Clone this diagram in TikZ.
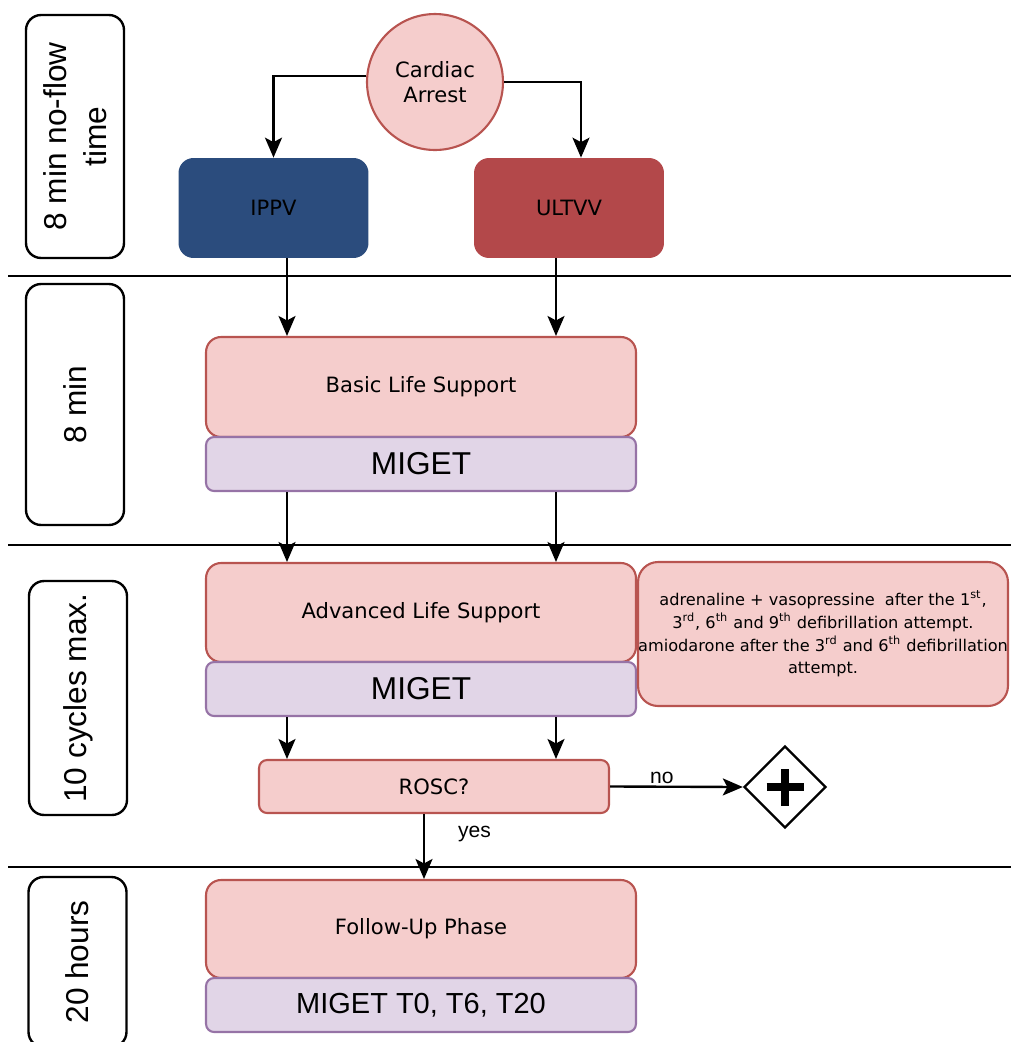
\documentclass[tikz,border=0pt]{standalone}
\usepackage{fontspec}
\setmainfont{DejaVu Sans}
\newfontfamily\arialfont{Liberation Sans}
\usetikzlibrary{arrows.meta,shapes.geometric}

\definecolor{boxpink}{HTML}{F5CDCC}
\definecolor{pinkline}{HTML}{B85450}
\definecolor{boxpurple}{HTML}{E1D5E7}
\definecolor{purpleline}{HTML}{9673A6}
\definecolor{ippvblue}{HTML}{2B4C7D}
\definecolor{ultvvred}{HTML}{B3484A}

\begin{document}
\begin{tikzpicture}[x=0.02cm, y=-0.02cm, >={Stealth[length=0.4cm,width=0.34cm,inset=0.09cm]},
	conn/.style={->, line width=1.35pt},
	phase/.style={draw=pinkline, fill=boxpink, line width=1.2pt, rounded corners=0.3cm,
		minimum width=8.6cm, minimum height=2cm, inner sep=0pt, font=\fontsize{12}{14}\selectfont},
	miget/.style={draw=purpleline, fill=boxpurple, line width=1.2pt, rounded corners=0.16cm,
		minimum width=8.6cm, minimum height=1.08cm, inner sep=0pt, font=\arialfont\fontsize{18}{21}\selectfont},
	timebox/.style={draw, line width=1.35pt, rounded corners=0.3cm, rotate=90, minimum height=1.96cm,
		inner sep=0pt, align=center, font=\arialfont\fontsize{18}{22.5}\selectfont},
	arm/.style={rounded corners=0.3cm, minimum width=3.8cm, minimum height=2cm, inner sep=0pt,
		font=\fontsize{12}{14}\selectfont}]
	\useasboundingbox (0,0) rectangle (1011,1042);
	\clip (0,0) rectangle (1011,1042);

	% columns of the vertical connectors
	\coordinate (lcol) at (287,0);
	\coordinate (rcol) at (556,0);
	\coordinate (ucol) at (581,0);
	\coordinate (mcol) at (424,0);

	% phase separators
	\foreach \y in {276,545,867}
		\draw[line width=1.35pt] (8,\y) -- (1011,\y);

	% time column
	\node[timebox, minimum width=4.86cm] (t1) at (75,136.5) {8 min no-flow\\time};
	\node[timebox, minimum width=4.82cm] (t2) at (75,404.5) {8 min};
	\node[timebox, minimum width=4.68cm] (t3) at (78,698) {10 cycles max.};
	\node[timebox, minimum width=3.4cm] (t4) at (77.5,962) {20 hours};

	% start
	\node[circle, draw=pinkline, fill=boxpink, line width=1.2pt, minimum size=2.72cm, inner sep=0pt,
		align=center, font=\fontsize{12}{14.5}\selectfont] (arrest) at (435,82) {Cardiac\\Arrest};
	\node[arm, fill=ippvblue] (ippv) at (273.5,208) {IPPV};
	\node[arm, fill=ultvvred] (ultvv) at (569,208) {ULTVV};

	% protocol
	\node[phase] (bls) at (421,387) {Basic Life Support};
	\node[miget] (miget1) at (421,464) {MIGET};
	\node[phase, minimum height=1.98cm] (als) at (421,612.5) {Advanced Life Support};
	\node[miget] (miget2) at (421,689) {MIGET};
	\node[draw=pinkline, fill=boxpink, line width=1.2pt, rounded corners=0.4cm, minimum width=7.4cm,
		minimum height=2.88cm, inner sep=0pt, align=center, font=\fontsize{9.2}{13}\selectfont] (drugs) at (823,634)
		{adrenaline + vasopressine~ after the 1\textsuperscript{st},\\
		 3\textsuperscript{rd}, 6\textsuperscript{th} and 9\textsuperscript{th} defibrillation attempt.\\
		 amiodarone after the 3\textsuperscript{rd} and 6\textsuperscript{th} defibrillation\\
		 attempt.};
	\node[phase, rounded corners=0.16cm, minimum width=7cm, minimum height=1.06cm] (rosc) at (434,786.5) {ROSC?};
	\node[diamond, draw, line width=1.35pt, minimum size=1.64cm, inner sep=0pt] (death) at (785,787) {};
	\draw[line width=4.5pt] ([xshift=-0.37cm]death.center) -- ([xshift=0.37cm]death.center);
	\draw[line width=4.5pt] ([yshift=-0.37cm]death.center) -- ([yshift=0.37cm]death.center);
	\node[phase, minimum height=1.96cm] (fup) at (421,929) {Follow-Up Phase};
	\node[miget, font=\arialfont\fontsize{16.5}{20}\selectfont] (miget3) at (421,1005) {MIGET T0, T6, T20};

	% connectors
	\draw[conn] (arrest.175) -| (ippv.north);
	\draw[conn] (arrest.east) -| (ultvv.north -| ucol);
	\draw[conn] (ippv.south -| lcol) -- (bls.north -| lcol);
	\draw[conn] (ultvv.south -| rcol) -- (bls.north -| rcol);
	\draw[conn] (miget1.south -| lcol) -- (als.north -| lcol);
	\draw[conn] (miget1.south -| rcol) -- (als.north -| rcol);
	\draw[conn] (miget2.south -| lcol) -- (rosc.north -| lcol);
	\draw[conn] (miget2.south -| rcol) -- (rosc.north -| rcol);
	\draw[conn] (rosc.east) -- node[above, pos=0.39, inner sep=1pt, font=\arialfont\fontsize{12}{14}\selectfont] {no} (death.west);
	\draw[conn] (rosc.south -| mcol) -- node[right, pos=0.3, inner sep=0pt, xshift=0.66cm,
		font=\arialfont\fontsize{12}{14}\selectfont] {yes} (fup.north -| mcol);
\end{tikzpicture}
\end{document}
